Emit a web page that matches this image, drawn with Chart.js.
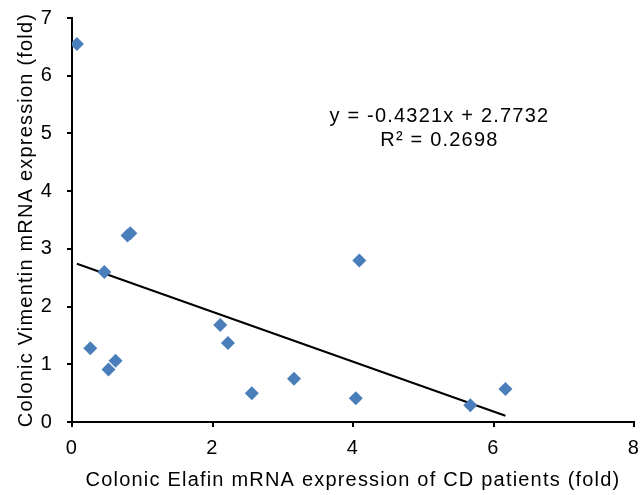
<!DOCTYPE html>
<html>
<head>
<meta charset="utf-8">
<script src="https://cdn.jsdelivr.net/npm/chart.js@4"></script>
<style>
  html, body { margin: 0; padding: 0; background: #fff; }
  #wrap { width: 641px; height: 495px; }
</style>
</head>
<body>
<div id="wrap"><canvas id="chart" width="641" height="495"></canvas></div>
<script>
// Elafin (x) vs Vimentin (y)
const elafinX   = [0.07, 0.79, 0.83, 0.46, 0.26, 0.62, 0.52, 2.11, 2.22, 2.56, 3.16, 4.09, 4.04, 5.67, 6.17];
const vimentinY = [6.55, 3.23, 3.27, 2.60, 1.28, 1.06, 0.91, 1.68, 1.37, 0.50, 0.75, 2.80, 0.41, 0.29, 0.57];
const xTicks    = [0, 2, 4, 6, 8];
const yTicks    = [0, 1, 2, 3, 4, 5, 6, 7];
const slope     = -0.4321;
const intercept = 2.7732;
const eqLines   = ['y = -0.4321x + 2.7732', 'R² = 0.2698'];

const points = elafinX.map((x, i) => ({ x: x, y: vimentinY[i] }));
const xMin = Math.min(...elafinX);
const xMax = Math.max(...elafinX);
const trend = [
    { x: xMin, y: slope * xMin + intercept },
    { x: xMax, y: slope * xMax + intercept },
];

const FONT = '"Liberation Sans", Arial, sans-serif';
const SPACING = '1.2px';

// the original text is set a bit wider than Arial, so spread it out
const wideText = {
    id: 'wideText',
    beforeUpdate(chart) { chart.ctx.letterSpacing = SPACING; },
    beforeLayout(chart) { chart.ctx.letterSpacing = SPACING; },
    beforeDraw(chart)   { chart.ctx.letterSpacing = SPACING; },
};

const equationLabel = {
    id: 'equationLabel',
    afterDatasetsDraw(chart) {
        const { ctx, scales: { x, y } } = chart;
        const cx = x.getPixelForValue(5.23);
        const cy = y.getPixelForValue(5.29);
        ctx.save();
        ctx.letterSpacing = SPACING;
        ctx.fillStyle = '#000';
        ctx.font = '20px ' + FONT;
        ctx.textAlign = 'center';
        ctx.textBaseline = 'middle';
        ctx.fillText(eqLines[0], cx, cy);
        ctx.fillText(eqLines[1], cx, cy + 24);
        ctx.restore();
    }
};

new Chart(document.getElementById('chart').getContext('2d'), {
    type: 'scatter',
    data: {
        datasets: [
            {
                label: 'samples',
                data: points,
                pointStyle: 'rectRot',
                pointRadius: 7,
                backgroundColor: '#4A7EBB',
                borderColor: '#4A7EBB',
                borderWidth: 0,
            },
            {
                type: 'line',
                label: 'trend',
                data: trend,
                borderColor: '#000',
                borderWidth: 2,
                pointRadius: 0,
                fill: false,
            },
        ],
    },
    options: {
        responsive: false,
        animation: false,
        devicePixelRatio: 1,
        layout: { padding: { top: 18, right: 5, left: 0, bottom: 0 } },
        plugins: { legend: { display: false }, tooltip: { enabled: false } },
        scales: {
            x: {
                type: 'linear',
                min: 0, max: 8,
                afterBuildTicks: s => { s.ticks = xTicks.map(v => ({ value: v })); },
                afterFit: s => { s.height = 73; s.paddingLeft = 0; s.paddingRight = 0; },
                grid: { drawOnChartArea: false, drawTicks: true, tickLength: 5, color: '#000', lineWidth: 2 },
                border: { color: '#000', width: 2 },
                ticks: { color: '#000', font: { family: FONT, size: 20 }, padding: 9, maxRotation: 0 },
                title: { display: true, text: 'Colonic Elafin mRNA expression of CD patients (fold)', color: '#000', font: { family: FONT, size: 20 }, padding: { top: 0, bottom: 3 } },
            },
            y: {
                type: 'linear',
                min: 0, max: 7,
                afterBuildTicks: s => { s.ticks = yTicks.map(v => ({ value: v })); },
                afterFit: s => { s.width = 72; s.paddingTop = 0; s.paddingBottom = 0; },
                grid: { drawOnChartArea: false, drawTicks: true, tickLength: 5, color: '#000', lineWidth: 2 },
                border: { color: '#000', width: 2 },
                ticks: { color: '#000', font: { family: FONT, size: 20 }, padding: 14 },
                title: { display: true, text: 'Colonic Vimentin mRNA expression (fold)', color: '#000', font: { family: FONT, size: 20 }, padding: { top: 14, bottom: 0 } },
            },
        },
    },
    plugins: [wideText, equationLabel],
});
</script>
</body>
</html>
